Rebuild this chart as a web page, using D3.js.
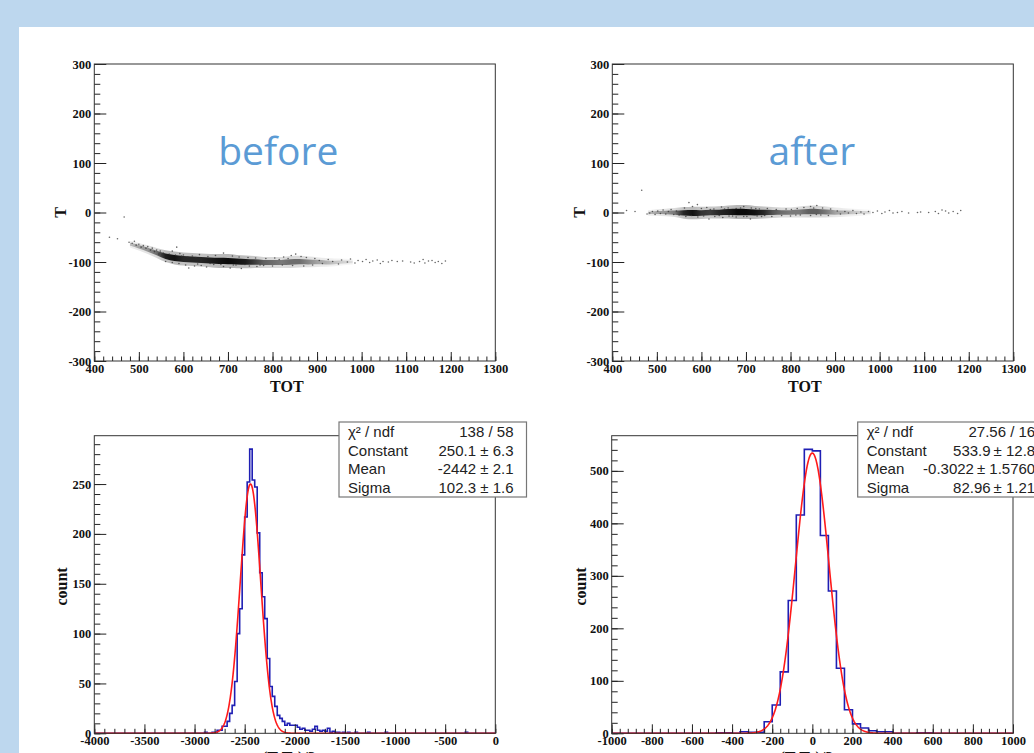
<!DOCTYPE html>
<html>
<head>
<meta charset="utf-8">
<script src="https://cdn.jsdelivr.net/npm/d3@7"></script>
<style>
body { margin: 0; background: #bdd7ee; }
svg { display: block; }
.tick text { font-family: "Liberation Serif", "Times New Roman", serif; font-weight: bold; font-size: 12.5px; fill: #111; }
.tick line { stroke: #222; }
.axis-title { font-family: "Liberation Serif", "Times New Roman", serif; font-weight: bold; font-size: 16px; fill: #111; }
.stats text { font-family: "Liberation Sans", Arial, sans-serif; font-size: 15px; fill: #222; }
.tag { font-family: "Open Sans", sans-serif; font-size: 39px; fill: #5b9bd5; }
</style>
</head>
<body>
<div id="chart"></div>
<script>
// ---- scatter data (TOT vs T) ----
const totTicks = [400, 500, 600, 700, 800, 900, 1000, 1100, 1200, 1300];
const tTicks = [-300, -200, -100, 0, 100, 200, 300];

// dense band, read per TOT column
const bandTot = [480, 500, 520, 540, 560, 580, 600, 620, 640, 660, 680, 700, 720, 740, 760, 780, 800, 820, 840, 860, 880, 900, 920, 940, 960, 980];
const beforeCenter = [-64, -69, -75, -82, -89, -92, -94, -95, -96, -97, -98, -98, -99, -100, -100, -101, -101, -101, -100, -99, -100, -100, -101, -101, -100, -100];
const beforeHalf = [3, 3.5, 4, 4.5, 5.5, 6, 6, 6, 6, 6, 6.5, 6.5, 6, 6, 5.5, 5, 5, 5, 5.5, 5.5, 5, 4.5, 4, 3.5, 3, 2.5];
const beforeDensity = [0.2, 0.3, 0.35, 0.5, 0.85, 0.9, 0.8, 0.8, 0.8, 0.85, 0.9, 0.95, 0.9, 0.85, 0.7, 0.55, 0.5, 0.45, 0.5, 0.5, 0.4, 0.3, 0.25, 0.18, 0.14, 0.1];
const afterCenter = [-1, 0, 0, 0, -1, -1, -1, 0, 0, 1, 1, 1, 0, 0, 0, 0, 0, 1, 2, 2, 1, 0, 0, 0, 0, 0];
const afterHalf = [2.5, 3, 3.5, 4, 5.5, 6, 5.5, 5.5, 5.5, 6, 6.5, 6.5, 6, 5.5, 5, 4.5, 4.5, 5, 5.5, 5.5, 5, 4.5, 4, 3.5, 3, 2.5];
const afterDensity = [0.2, 0.3, 0.35, 0.45, 0.8, 0.9, 0.75, 0.7, 0.8, 0.85, 0.95, 0.95, 0.9, 0.8, 0.6, 0.5, 0.45, 0.45, 0.55, 0.55, 0.45, 0.3, 0.25, 0.18, 0.14, 0.1];

// loose points around the band
const beforeDots = [
  [434, -50], [452, -53], [467, -9], [478, -60], [485, -62], [490, -58], [494, -66], [500, -64], [505, -70], [510, -67],
  [516, -72], [520, -69], [526, -76], [530, -72], [535, -79], [540, -76], [545, -84], [548, -78], [552, -86], [555, -82],
  [585, -70], [575, -78], [592, -83], [568, -84], [582, -86], [596, -88], [610, -90], [628, -91],
  [560, -99], [575, -101], [590, -103], [605, -106], [612, -112], [625, -108], [640, -107], [652, -110], [668, -105],
  [690, -109], [705, -112], [718, -106], [730, -113], [748, -108], [765, -109], [780, -107], [800, -108], [822, -106],
  [845, -107], [870, -108], [890, -106], [632, -104], [660, -103], [684, -105], [712, -106], [738, -105], [772, -106],
  [600, -86], [620, -88], [636, -85], [655, -89], [672, -87], [690, -82], [710, -88], [725, -90], [745, -91], [762, -92],
  [785, -93], [805, -92], [825, -90], [842, -87], [852, -84], [864, -89], [876, -91], [895, -93], [815, -95], [835, -93],
  [905, -97], [912, -103], [925, -95], [935, -99], [948, -104], [955, -96], [968, -100], [975, -94], [985, -102], [992, -97],
  [1002, -99], [1010, -95], [1018, -101], [1025, -98], [1035, -96], [1042, -103], [1048, -99], [1060, -100], [1068, -97],
  [1080, -99], [1092, -98], [1110, -100], [1118, -102], [1130, -99], [1138, -95], [1142, -102], [1150, -98], [1158, -97],
  [1165, -101], [1172, -99], [1180, -103], [1188, -98]
];
const afterDots = [
  [432, 4], [451, 2], [466, 45], [478, -3], [484, -1], [490, 2], [496, -4], [502, 3], [508, -2], [514, 5], [520, -3],
  [526, 2], [532, 6], [538, -4], [544, 3], [550, -5],
  [562, 9], [572, 20], [580, 12], [591, 16], [600, 8], [612, 10], [628, 7], [645, 11], [660, 9], [678, 8], [695, 12],
  [712, 9], [730, 7], [748, 8], [768, 6], [790, 7], [815, 8], [830, 10], [845, 12], [859, 14], [872, 9], [890, 7],
  [620, 6], [652, 7], [688, 9], [722, 8], [802, 6], [852, 9],
  [565, -8], [578, -6], [592, -9], [605, -7], [617, -13], [630, -8], [648, -10], [662, -7], [678, -9], [695, -8],
  [710, -13], [725, -7], [742, -6], [758, -8], [780, -6], [800, -7], [822, -5], [845, -6], [868, -5], [885, -6],
  [640, -6], [670, -7], [702, -8], [735, -8], [812, -5], [858, -4],
  [905, 3], [912, -3], [922, 2], [930, -1], [940, 4], [948, -2], [958, 1], [965, -3], [975, 2], [985, 0], [995, 3],
  [1005, -2], [1012, 1], [1022, 4], [1030, -1], [1040, 0], [1050, 2], [1065, -1], [1085, 0], [1092, 1], [1110, 0],
  [1125, 2], [1132, -2], [1140, 5], [1148, 3], [1155, -1], [1165, 2], [1175, -2], [1182, 4]
];

// ---- histogram data ----
const histAStart = -2975;   // left edge of first entry in histACounts
const histAWidth = 25;
const histACounts = [
  0, 0, 0, 1, 0, 0, 1, 1, 3, 3, 7, 7, 12, 20, 28, 52, 100, 125, 179, 217, 252, 285,
  254, 247, 201, 161, 137, 115, 75, 47, 37, 27, 18, 15, 12, 8, 10, 8, 8, 8, 6, 4, 5, 3, 3, 2,
  4, 7, 3, 2, 3, 2, 5, 1, 2, 1, 1, 0, 1, 0, 1, 0, 0, 1
];
const histAExtraEdges = [-1275, -1100, -300];
const histAExtraCounts = [1, 1, 1];
const fitA = [250.1, -2442, 102.3];
const statsA = [["χ² / ndf", "138 / 58"], ["Constant", "250.1 ± 6.3"], ["Mean", "-2442 ± 2.1"], ["Sigma", "102.3 ± 1.6"]];

const histBStart = -480;
const histBWidth = 40;
const histBCounts = [1, 1, 0, 3, 2, 2, 22, 54, 117, 253, 416, 541, 538, 377, 271, 124, 45, 18, 10, 5, 3, 3, 0, 0, 0, 1, 1];
const histBExtraEdges = [];
const histBExtraCounts = [];
const fitB = [533.9, -0.3022, 82.96];
const statsB = [["χ² / ndf", "27.56 / 16"], ["Constant", "533.9\u2009± 12.8"], ["Mean", "-0.3022\u2009± 1.5760"], ["Sigma", "82.96\u2009± 1.21"]];

const W = 1034, H = 753;
const svg = d3.select("#chart").append("svg").attr("width", W).attr("height", H);
const defs = svg.append("defs");

svg.append("rect").attr("width", W).attr("height", H).attr("fill", "#bdd7ee");
svg.append("rect").attr("x", 19).attr("y", 27).attr("width", W - 19).attr("height", H - 27).attr("fill", "#fff");

function drawAxes(g, x, y, w, h, xt, yt) {
  g.append("g").attr("transform", `translate(0,${h})`)
    .call(d3.axisBottom(x).tickValues(xt.minor).tickSize(-4.5).tickFormat(""));
  g.append("g").attr("transform", `translate(0,${h})`)
    .call(d3.axisBottom(x).tickValues(xt.major).tickSize(-9).tickPadding(3).tickFormat(d => String(d)));
  g.append("g")
    .call(d3.axisLeft(y).tickValues(yt.minor).tickSize(-6).tickFormat(""));
  g.append("g")
    .call(d3.axisLeft(y).tickValues(yt.major).tickSize(-12).tickPadding(3).tickFormat(d => String(d)));
  g.selectAll(".domain").remove();
  g.append("rect").attr("width", w).attr("height", h)
    .attr("fill", "none").attr("stroke", "#333").attr("stroke-width", 1);
}

function bandGradient(id, x, density, scale) {
  const grad = defs.append("linearGradient").attr("id", id)
    .attr("gradientUnits", "userSpaceOnUse")
    .attr("x1", x(bandTot[0])).attr("x2", x(bandTot[bandTot.length - 1]))
    .attr("y1", 0).attr("y2", 0);
  grad.selectAll("stop").data(density).join("stop")
    .attr("offset", (d, i) => i / (bandTot.length - 1))
    .attr("stop-color", "#000")
    .attr("stop-opacity", d => d * scale);
}

function scatterPlot(o) {
  const g = svg.append("g").attr("transform", `translate(${o.left},${o.top})`);
  const x = d3.scaleLinear().domain([400, 1300]).range([0, o.width]);
  const y = d3.scaleLinear().domain([-300, 300]).range([o.height, 0]);

  // band: gradient carries the point density along TOT, halo + core
  bandGradient(o.id + "-halo", x, o.density, 0.3);
  bandGradient(o.id + "-core", x, o.density, 1);

  const band = k => d3.area()
    .x((d, i) => x(bandTot[i]))
    .y0((d, i) => y(o.center[i] - o.half[i] * k))
    .y1((d, i) => y(o.center[i] + o.half[i] * k))
    .curve(d3.curveBasis);
  g.append("path").datum(o.center).attr("d", band(2.2)).attr("fill", `url(#${o.id}-halo)`);
  g.append("path").datum(o.center).attr("d", band(1)).attr("fill", `url(#${o.id}-core)`);

  g.selectAll("circle.dot").data(o.dots).join("circle")
    .attr("class", "dot")
    .attr("cx", d => x(d[0])).attr("cy", d => y(d[1]))
    .attr("r", 0.8).attr("fill", "#333").attr("fill-opacity", 0.75);

  drawAxes(g, x, y, o.width, o.height,
    { major: totTicks, minor: d3.range(400, 1301, 20) },
    { major: tTicks, minor: d3.range(-300, 301, 20) });

  g.append("text").attr("class", "axis-title")
    .attr("x", o.width / 2 - 8).attr("y", o.height + 31)
    .attr("text-anchor", "middle").text("TOT");
  g.append("text").attr("class", "axis-title")
    .attr("transform", `translate(${o.yTitleX},${y(0)}) rotate(-90)`)
    .attr("text-anchor", "middle").text("T");
  g.append("text").attr("class", "tag")
    .attr("x", o.tagX).attr("y", 101)
    .attr("text-anchor", "middle").text(o.tag);
}

function histPlot(o) {
  const g = svg.append("g").attr("transform", `translate(${o.left},${o.top})`);
  const x = d3.scaleLinear().domain(o.xDomain).range([0, o.width]);
  const y = d3.scaleLinear().domain([0, o.yMax]).range([o.height, 0]);

  const nb = Math.round((o.xDomain[1] - o.xDomain[0]) / o.binWidth);
  const full = new Array(nb).fill(0);
  const idx = e => Math.round((e - o.xDomain[0]) / o.binWidth);
  o.counts.forEach((c, i) => { full[idx(o.start) + i] = c; });
  o.extraEdges.forEach((e, i) => { full[idx(e)] = o.extraCounts[i]; });

  const steps = full.map((c, i) => [o.xDomain[0] + i * o.binWidth, c]);
  steps.push([o.xDomain[1], full[nb - 1]]);
  g.append("path").datum(steps)
    .attr("d", d3.line().x(d => x(d[0])).y(d => y(d[1])).curve(d3.curveStepAfter))
    .attr("fill", "none").attr("stroke", "#1f1fb4").attr("stroke-width", 1.6);

  const [C, mu, sig] = o.fit;
  const fx = d3.range(0, 1001).map(i => o.xDomain[0] + i * (o.xDomain[1] - o.xDomain[0]) / 1000);
  g.append("path").datum(fx)
    .attr("d", d3.line().x(d => x(d)).y(d => y(C * Math.exp(-0.5 * ((d - mu) / sig) ** 2))))
    .attr("fill", "none").attr("stroke", "#ff1a1a").attr("stroke-width", 1.6);

  drawAxes(g, x, y, o.width, o.height,
    { major: d3.range(o.xDomain[0], o.xDomain[1] + 1, o.xMajor), minor: d3.range(o.xDomain[0], o.xDomain[1] + 1, o.xMajor / 5) },
    { major: d3.range(0, o.yMax, o.yMajor), minor: d3.range(0, o.yMax, o.yMajor / 5) });

  g.append("text").attr("class", "axis-title")
    .attr("transform", `translate(${o.yTitleX},${y(o.yMax / 2) + 2}) rotate(-90)`)
    .attr("text-anchor", "middle").text("count");
  const xt = g.append("text").attr("class", "axis-title")
    .attr("x", o.width / 2 - 6).attr("y", o.height + 30).attr("text-anchor", "middle");
  xt.append("tspan").text("(T-T");
  xt.append("tspan").attr("dy", 3).style("font-size", "11px").text("0");
  xt.append("tspan").attr("dy", -3).text(")/2");

  // stats box
  const sb = svg.append("g").attr("class", "stats")
    .attr("transform", `translate(${o.box.x},${o.box.y})`);
  sb.append("rect").attr("width", o.box.w).attr("height", 75)
    .attr("fill", "#fff").attr("stroke", "#777").attr("stroke-width", 1.2);
  o.stats.forEach((r, i) => {
    sb.append("text").attr("x", 9).attr("y", 15 + i * 18.7).text(r[0]);
    sb.append("text").attr("x", o.box.valueX).attr("y", 15 + i * 18.7)
      .attr("text-anchor", "end").text(r[1]);
  });
}

scatterPlot({ id: "before", left: 94.3, top: 64, width: 401, height: 297,
  center: beforeCenter, half: beforeHalf, density: beforeDensity, dots: beforeDots,
  yTitleX: -28, tag: "before", tagX: 184 });
scatterPlot({ id: "after", left: 612.3, top: 64, width: 401, height: 297,
  center: afterCenter, half: afterHalf, density: afterDensity, dots: afterDots,
  yTitleX: -27, tag: "after", tagX: 199.5 });

histPlot({ left: 94.3, top: 435.7, width: 401, height: 297.6,
  xDomain: [-4000, 0], binWidth: histAWidth, start: histAStart, counts: histACounts,
  extraEdges: histAExtraEdges, extraCounts: histAExtraCounts, fit: fitA,
  yMax: 298.5, yMajor: 50, xMajor: 500, yTitleX: -27.5,
  stats: statsA, box: { x: 339, y: 422, w: 187.5, valueX: 174.5 } });
histPlot({ left: 611.7, top: 435.7, width: 401.3, height: 297.6,
  xDomain: [-1000, 1000], binWidth: histBWidth, start: histBStart, counts: histBCounts,
  extraEdges: histBExtraEdges, extraCounts: histBExtraCounts, fit: fitB,
  yMax: 567, yMajor: 100, xMajor: 200, yTitleX: -25.5,
  stats: statsB, box: { x: 857.7, y: 422, w: 190, valueX: 177.5 } });
</script>
</body>
</html>
